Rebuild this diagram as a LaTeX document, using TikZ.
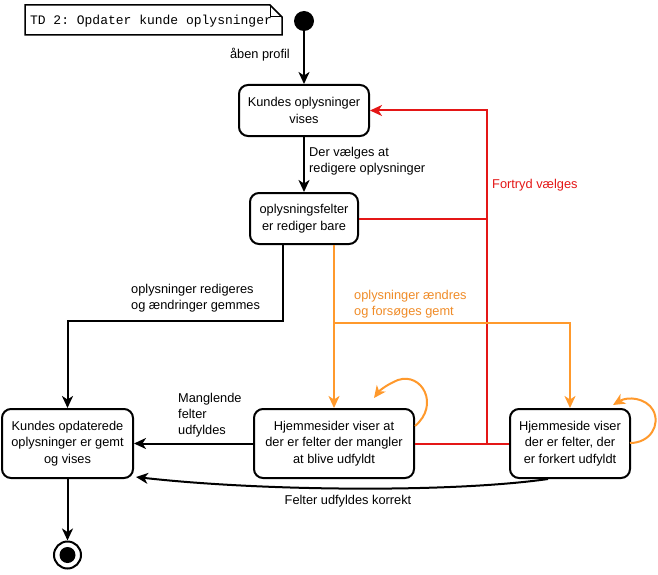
\documentclass[tikz,border=0pt]{standalone}
\usepackage{fontspec}
\setmainfont{Liberation Sans}
\setmonofont{Liberation Mono}
\usetikzlibrary{arrows.meta}
\definecolor{cred}{RGB}{228,22,22}
\definecolor{corange}{RGB}{255,153,44}
\definecolor{clabor}{RGB}{240,140,40}
\begin{document}
\begin{tikzpicture}[x=1pt,y=-1pt,
  state/.style={draw,line width=2pt,rounded corners=9pt,align=center,font=\fontsize{12.8}{16.5}\selectfont,inner sep=0pt},
  conn/.style={line width=2pt,-{Stealth[length=12pt,width=11pt,inset=3.5pt]}},
  plain/.style={line width=2pt},
  lbl/.style={font=\fontsize{12.8}{16}\selectfont,align=left,inner sep=0pt}]
\useasboundingbox (0,0) rectangle (658,575);
\fill[white] (0,0) rectangle (658,575);

% note
\draw[line width=1.5pt] (25,5) -- (270,5) -- (282,17) -- (282,35) -- (25,35) -- cycle;
\draw[line width=1pt] (270,5) -- (270,17) -- (282,17);
\node[font=\ttfamily\fontsize{13}{14}\selectfont,inner sep=0pt] (note) at (151,21) {TD 2: Opdater kunde oplysninger};

% states
\node[state,minimum width=130pt,minimum height=51pt] (b1) at (304,110.5) {Kundes oplysninger\\vises};
\node[state,minimum width=108pt,minimum height=51pt] (b2) at (304,218.5) {oplysningsfelter\\er rediger bare};
\node[state,minimum width=160pt,minimum height=69pt] (b3) at (334,443.5) {Hjemmesider viser at\\der er felter der mangler\\at blive udfyldt};
\node[state,minimum width=120pt,minimum height=69pt] (b4) at (570,443.5) {Hjemmeside viser\\der er felter, der\\er forkert udfyldt};
\node[state,minimum width=131pt,minimum height=69pt] (b5) at (67.5,443.5) {Kundes opdaterede\\oplysninger er gemt\\og vises};

% start / end
\node[circle,fill,minimum size=20pt,inner sep=0pt] (start) at (304,21) {};
\node[circle,draw,line width=2pt,minimum size=27pt,inner sep=0pt] (end) at (67.5,555) {};
\fill (end.center) circle (8pt);

% black connectors
\draw[conn] (start) -- (b1);
\node[lbl,anchor=east] (l1) at (290,55) {åben profil};
\draw[conn] (b1) -- (b2);
\node[lbl,anchor=west] (l2) at (309,161) {Der vælges at\\redigere oplysninger};
\coordinate (k1) at (283,321);
\draw[conn] ([xshift=-21pt]b2.south) -- (k1) -| (b5.north);
\node[lbl,anchor=west] (l3) at (131,298) {oplysninger redigeres\\og ændringer gemmes};
\draw[conn] (b3.west) -- (b5.east);
\node[lbl,anchor=west] (l4) at (178,415) {Manglende\\felter\\udfyldes};
\draw[conn] ([xshift=-22pt]b4.south) .. controls (450,493) and (260,491) .. ([xshift=2pt,yshift=2pt]b5.south east);
\node[lbl,align=center] (l5) at (348,501) {Felter udfyldes korrekt};
\draw[conn] (b5) -- (end);

% red connectors
\coordinate (rtop) at (487,110.5);
\coordinate (rbot) at (487,443.5);
\draw[plain,cred] (b3.east) -- (b4.west);
\draw[plain,cred] (b2.east) -- (b2.east -| rtop);
\draw[conn,cred] (rbot) -- (rtop) -- (b1.east);
\node[lbl,anchor=west,text=cred] (l6) at (492,185) {Fortryd vælges};

% orange connectors
\coordinate (oj) at (334,323);
\draw[conn,corange] ([xshift=30pt]b2.south) -- (b3.north);
\draw[conn,corange] (oj) -| (b4.north);
\node[lbl,anchor=west,text=clabor] (l7) at (354,304) {oplysninger ændres\\og forsøges gemt};

% self loops
\coordinate (s3) at (415,426);
\coordinate (e3) at (374,398);
\draw[conn,corange] (s3) .. controls (440,405) and (422,372) .. (398,380) .. controls (388,384) and (380,390) .. (e3);
\coordinate (s4) at (630,443);
\coordinate (e4) at (613,405);
\draw[conn,corange] (s4) .. controls (650,443) and (661,425) .. (653,410) .. controls (646,398) and (628,396) .. (e4);
\end{tikzpicture}
\end{document}
